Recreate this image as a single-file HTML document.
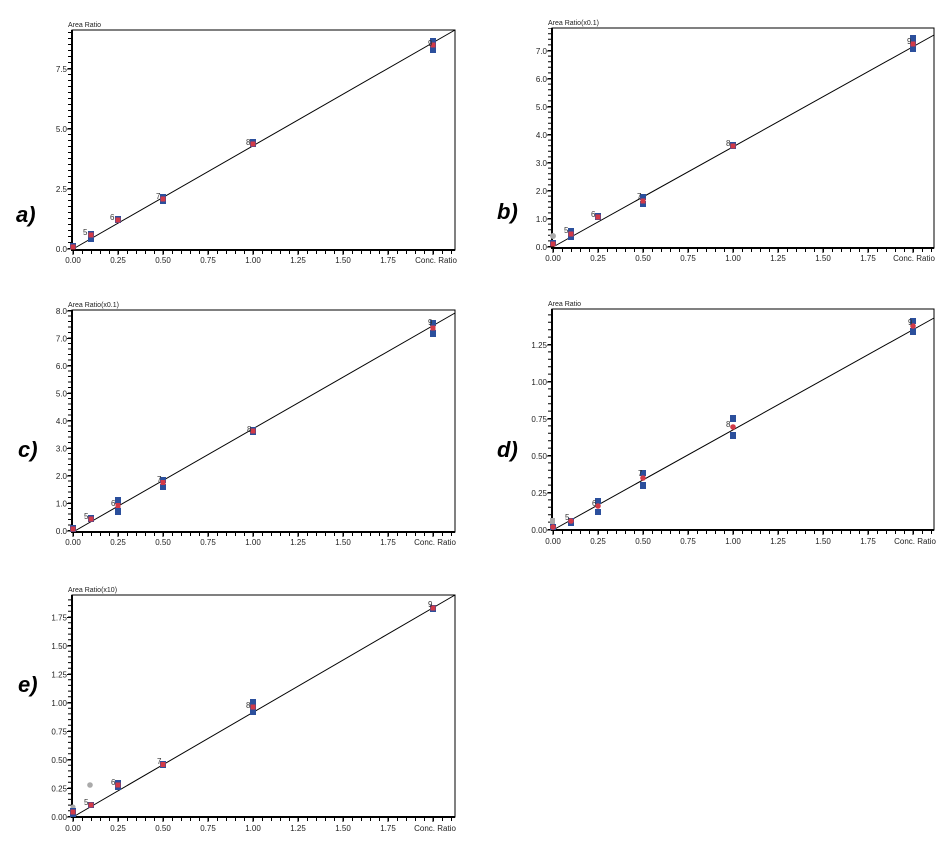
<!DOCTYPE html>
<html><head><meta charset="utf-8"><style>
html,body{margin:0;padding:0;background:#fff;}
svg{display:block;}
text{font-family:"Liberation Sans",sans-serif;fill:#222;}
.t{font-size:8px;}
.yl{font-size:8px;text-anchor:end;}
.xl{font-size:8px;text-anchor:middle;}
.ti{font-size:7px;}
.pl{font-size:22px;font-weight:bold;font-style:italic;fill:#000;}
.n{font-size:8px;fill:#333;}
.b{fill:#2b4f9c;}
.r{fill:#d23a48;}
.g{fill:#aaa;}
</style></head><body>
<svg width="940" height="841" viewBox="0 0 940 841" xmlns="http://www.w3.org/2000/svg">
<rect width="940" height="841" fill="#fff"/>

<!-- ===== Panel a ===== -->
<g>
<rect x="72" y="30" width="383" height="220" fill="none" stroke="#000" stroke-width="1"/>
<line x1="72" y1="30" x2="72" y2="251" stroke="#000" stroke-width="2"/>
<line x1="71" y1="250" x2="455" y2="250" stroke="#000" stroke-width="2"/>
<line x1="69.5" y1="249" x2="69.5" y2="30" stroke="#000" stroke-width="3" stroke-dasharray="1 5"/>
<line x1="73" y1="252.5" x2="455" y2="252.5" stroke="#000" stroke-width="3" stroke-dasharray="1 8"/>
<g stroke="#000" stroke-width="1">
<line x1="67" y1="249" x2="72" y2="249"/><line x1="67" y1="189" x2="72" y2="189"/><line x1="67" y1="129" x2="72" y2="129"/><line x1="67" y1="69" x2="72" y2="69"/>
<line x1="73" y1="250" x2="73" y2="255"/><line x1="118" y1="250" x2="118" y2="255"/><line x1="163" y1="250" x2="163" y2="255"/><line x1="208" y1="250" x2="208" y2="255"/><line x1="253" y1="250" x2="253" y2="255"/><line x1="298" y1="250" x2="298" y2="255"/><line x1="343" y1="250" x2="343" y2="255"/><line x1="388" y1="250" x2="388" y2="255"/><line x1="433" y1="250" x2="433" y2="255"/>
</g>
<text class="yl" x="67" y="252">0.0</text><text class="yl" x="67" y="192">2.5</text><text class="yl" x="67" y="132">5.0</text><text class="yl" x="67" y="72">7.5</text>
<text class="xl" x="73" y="263">0.00</text><text class="xl" x="118" y="263">0.25</text><text class="xl" x="163" y="263">0.50</text><text class="xl" x="208" y="263">0.75</text><text class="xl" x="253" y="263">1.00</text><text class="xl" x="298" y="263">1.25</text><text class="xl" x="343" y="263">1.50</text><text class="xl" x="388" y="263">1.75</text><text class="xl" x="436" y="263">Conc. Ratio</text>
<text class="ti" x="68" y="27">Area Ratio</text>
<line x1="73" y1="249" x2="455" y2="30" stroke="#000" stroke-width="1"/>
<rect class="b" x="70" y="243" width="6" height="6"/><rect class="r" x="70.5" y="244.5" width="5" height="5"/>
<rect class="b" x="88" y="231" width="6" height="6"/><rect class="b" x="88" y="236" width="6" height="6"/><rect class="r" x="88.5" y="232.5" width="5" height="5"/><text class="n" x="83" y="235">5</text>
<rect class="b" x="115" y="216" width="6" height="7"/><rect class="r" x="115.5" y="217.5" width="5" height="5"/><text class="n" x="110" y="220">6</text>
<rect class="b" x="160" y="194" width="6" height="6"/><rect class="b" x="160" y="199" width="6" height="5"/><rect class="r" x="160.5" y="196.5" width="5" height="5"/><text class="n" x="156" y="199">7</text>
<rect class="b" x="250" y="139" width="6" height="8"/><rect class="r" x="250.5" y="141.5" width="5" height="5"/><text class="n" x="246" y="145">8</text>
<rect class="b" x="430" y="38" width="6" height="6"/><rect class="b" x="430" y="47" width="6" height="6"/><rect class="b" x="430" y="42" width="6" height="6"/><rect class="r" x="430.5" y="42.5" width="5" height="5"/><text class="n" x="428" y="46">9</text>
<text class="pl" x="16" y="222">a)</text>
</g>

<!-- ===== Panel b ===== -->
<g>
<rect x="552" y="28" width="382" height="220" fill="none" stroke="#000" stroke-width="1"/>
<line x1="552" y1="28" x2="552" y2="249" stroke="#000" stroke-width="2"/>
<line x1="551" y1="248" x2="934" y2="248" stroke="#000" stroke-width="2"/>
<line x1="549.5" y1="247" x2="549.5" y2="28" stroke="#000" stroke-width="3" stroke-dasharray="1 4.6"/>
<line x1="553" y1="250.5" x2="934" y2="250.5" stroke="#000" stroke-width="3" stroke-dasharray="1 8"/>
<g stroke="#000" stroke-width="1">
<line x1="547" y1="247" x2="552" y2="247"/><line x1="547" y1="219" x2="552" y2="219"/><line x1="547" y1="191" x2="552" y2="191"/><line x1="547" y1="163" x2="552" y2="163"/><line x1="547" y1="135" x2="552" y2="135"/><line x1="547" y1="107" x2="552" y2="107"/><line x1="547" y1="79" x2="552" y2="79"/><line x1="547" y1="51" x2="552" y2="51"/>
<line x1="553" y1="248" x2="553" y2="253"/><line x1="598" y1="248" x2="598" y2="253"/><line x1="643" y1="248" x2="643" y2="253"/><line x1="688" y1="248" x2="688" y2="253"/><line x1="733" y1="248" x2="733" y2="253"/><line x1="778" y1="248" x2="778" y2="253"/><line x1="823" y1="248" x2="823" y2="253"/><line x1="868" y1="248" x2="868" y2="253"/><line x1="913" y1="248" x2="913" y2="253"/>
</g>
<text class="yl" x="547" y="250">0.0</text><text class="yl" x="547" y="222">1.0</text><text class="yl" x="547" y="194">2.0</text><text class="yl" x="547" y="166">3.0</text><text class="yl" x="547" y="138">4.0</text><text class="yl" x="547" y="110">5.0</text><text class="yl" x="547" y="82">6.0</text><text class="yl" x="547" y="54">7.0</text>
<text class="xl" x="553" y="261">0.00</text><text class="xl" x="598" y="261">0.25</text><text class="xl" x="643" y="261">0.50</text><text class="xl" x="688" y="261">0.75</text><text class="xl" x="733" y="261">1.00</text><text class="xl" x="778" y="261">1.25</text><text class="xl" x="823" y="261">1.50</text><text class="xl" x="868" y="261">1.75</text><text class="xl" x="914" y="261">Conc. Ratio</text>
<text class="ti" x="548" y="25">Area Ratio(x0.1)</text>
<line x1="553" y1="247" x2="934" y2="35" stroke="#000" stroke-width="1"/>
<circle class="g" cx="553" cy="236" r="3"/>
<rect class="b" x="550" y="240" width="6" height="6"/><rect class="r" x="550.5" y="241.5" width="5" height="5"/>
<rect class="b" x="568" y="228" width="6" height="6"/><rect class="b" x="568" y="234" width="6" height="6"/><rect class="r" x="568.5" y="231.5" width="5" height="5"/><text class="n" x="564" y="233">5</text>
<rect class="b" x="595" y="213" width="6" height="7"/><rect class="r" x="595.5" y="214.5" width="5" height="5"/><text class="n" x="591" y="217">6</text>
<rect class="b" x="640" y="194" width="6" height="6"/><rect class="b" x="640" y="201" width="6" height="6"/><rect class="r" x="640.5" y="198.5" width="5" height="5"/><text class="n" x="637" y="199">7</text>
<rect class="b" x="730" y="142" width="6" height="7"/><rect class="r" x="730.5" y="143.5" width="5" height="5"/><text class="n" x="726" y="146">8</text>
<rect class="b" x="910" y="35" width="6" height="6"/><rect class="b" x="910" y="45" width="6" height="7"/><rect class="b" x="910" y="40" width="6" height="6"/><rect class="r" x="910.5" y="41.5" width="5" height="5"/><text class="n" x="907" y="44">9</text>
<text class="pl" x="497" y="219">b)</text>
</g>

<!-- ===== Panel c ===== -->
<g>
<rect x="72" y="310" width="383" height="222" fill="none" stroke="#000" stroke-width="1"/>
<line x1="72" y1="310" x2="72" y2="533" stroke="#000" stroke-width="2"/>
<line x1="71" y1="532" x2="455" y2="532" stroke="#000" stroke-width="2"/>
<line x1="69.5" y1="531" x2="69.5" y2="310" stroke="#000" stroke-width="3" stroke-dasharray="1 4.5"/>
<line x1="73" y1="534.5" x2="455" y2="534.5" stroke="#000" stroke-width="3" stroke-dasharray="1 8"/>
<g stroke="#000" stroke-width="1">
<line x1="67" y1="531" x2="72" y2="531"/><line x1="67" y1="503.5" x2="72" y2="503.5"/><line x1="67" y1="476" x2="72" y2="476"/><line x1="67" y1="448.5" x2="72" y2="448.5"/><line x1="67" y1="421" x2="72" y2="421"/><line x1="67" y1="393.5" x2="72" y2="393.5"/><line x1="67" y1="366" x2="72" y2="366"/><line x1="67" y1="338.5" x2="72" y2="338.5"/><line x1="67" y1="311" x2="72" y2="311"/>
<line x1="73" y1="532" x2="73" y2="537"/><line x1="118" y1="532" x2="118" y2="537"/><line x1="163" y1="532" x2="163" y2="537"/><line x1="208" y1="532" x2="208" y2="537"/><line x1="253" y1="532" x2="253" y2="537"/><line x1="298" y1="532" x2="298" y2="537"/><line x1="343" y1="532" x2="343" y2="537"/><line x1="388" y1="532" x2="388" y2="537"/><line x1="433" y1="532" x2="433" y2="537"/>
</g>
<text class="yl" x="67" y="534">0.0</text><text class="yl" x="67" y="506.5">1.0</text><text class="yl" x="67" y="479">2.0</text><text class="yl" x="67" y="451.5">3.0</text><text class="yl" x="67" y="424">4.0</text><text class="yl" x="67" y="396.5">5.0</text><text class="yl" x="67" y="369">6.0</text><text class="yl" x="67" y="341.5">7.0</text><text class="yl" x="67" y="314">8.0</text>
<text class="xl" x="73" y="545">0.00</text><text class="xl" x="118" y="545">0.25</text><text class="xl" x="163" y="545">0.50</text><text class="xl" x="208" y="545">0.75</text><text class="xl" x="253" y="545">1.00</text><text class="xl" x="298" y="545">1.25</text><text class="xl" x="343" y="545">1.50</text><text class="xl" x="388" y="545">1.75</text><text class="xl" x="435" y="545">Conc. Ratio</text>
<text class="ti" x="68" y="307">Area Ratio(x0.1)</text>
<line x1="73" y1="532" x2="455" y2="313" stroke="#000" stroke-width="1"/>
<rect class="b" x="70" y="525" width="6" height="7"/><rect class="r" x="70.5" y="526.5" width="5" height="5"/>
<rect class="b" x="88" y="515" width="6" height="7"/><rect class="r" x="88.5" y="516.5" width="5" height="5"/><text class="n" x="84" y="519">5</text>
<rect class="b" x="115" y="497" width="6" height="7"/><rect class="b" x="115" y="508" width="6" height="7"/><rect class="r" x="115.5" y="503" width="5" height="5"/><text class="n" x="111" y="506">6</text>
<rect class="b" x="160" y="477" width="6" height="6"/><rect class="b" x="160" y="484" width="6" height="6"/><rect class="r" x="160.5" y="480" width="5" height="5"/><text class="n" x="157" y="482">7</text>
<rect class="b" x="250" y="427" width="6" height="8"/><rect class="r" x="250.5" y="428.5" width="5" height="5"/><text class="n" x="247" y="432">8</text>
<rect class="b" x="430" y="320" width="6" height="6"/><rect class="b" x="430" y="330" width="6" height="7"/><rect class="r" x="430.5" y="325.5" width="5" height="5"/><text class="n" x="428" y="325">9</text>
<text class="pl" x="18" y="457">c)</text>
</g>

<!-- ===== Panel d ===== -->
<g>
<rect x="552" y="309" width="382" height="221" fill="none" stroke="#000" stroke-width="1"/>
<line x1="552" y1="309" x2="552" y2="531" stroke="#000" stroke-width="2"/>
<line x1="551" y1="530" x2="934" y2="530" stroke="#000" stroke-width="2"/>
<line x1="549.5" y1="530" x2="549.5" y2="309" stroke="#000" stroke-width="3" stroke-dasharray="1 6.4"/>
<line x1="553" y1="532.5" x2="934" y2="532.5" stroke="#000" stroke-width="3" stroke-dasharray="1 8"/>
<g stroke="#000" stroke-width="1">
<line x1="547" y1="530" x2="552" y2="530"/><line x1="547" y1="493" x2="552" y2="493"/><line x1="547" y1="456" x2="552" y2="456"/><line x1="547" y1="419" x2="552" y2="419"/><line x1="547" y1="382" x2="552" y2="382"/><line x1="547" y1="345" x2="552" y2="345"/>
<line x1="553" y1="530" x2="553" y2="535"/><line x1="598" y1="530" x2="598" y2="535"/><line x1="643" y1="530" x2="643" y2="535"/><line x1="688" y1="530" x2="688" y2="535"/><line x1="733" y1="530" x2="733" y2="535"/><line x1="778" y1="530" x2="778" y2="535"/><line x1="823" y1="530" x2="823" y2="535"/><line x1="868" y1="530" x2="868" y2="535"/><line x1="913" y1="530" x2="913" y2="535"/>
</g>
<text class="yl" x="547" y="533">0.00</text><text class="yl" x="547" y="496">0.25</text><text class="yl" x="547" y="459">0.50</text><text class="yl" x="547" y="422">0.75</text><text class="yl" x="547" y="385">1.00</text><text class="yl" x="547" y="348">1.25</text>
<text class="xl" x="553" y="544">0.00</text><text class="xl" x="598" y="544">0.25</text><text class="xl" x="643" y="544">0.50</text><text class="xl" x="688" y="544">0.75</text><text class="xl" x="733" y="544">1.00</text><text class="xl" x="778" y="544">1.25</text><text class="xl" x="823" y="544">1.50</text><text class="xl" x="868" y="544">1.75</text><text class="xl" x="915" y="544">Conc. Ratio</text>
<text class="ti" x="548" y="306">Area Ratio</text>
<line x1="553" y1="530" x2="934" y2="318" stroke="#000" stroke-width="1"/>
<rect class="g" x="550" y="518" width="5" height="6"/>
<rect class="b" x="550" y="524" width="6" height="6"/><circle class="r" cx="553" cy="527" r="2.8"/>
<rect class="b" x="568" y="518" width="6" height="8"/><circle class="r" cx="571" cy="521" r="2.8"/><text class="n" x="565" y="520">5</text>
<rect class="b" x="595" y="498" width="6" height="6"/><rect class="b" x="595" y="509" width="6" height="6"/><circle class="r" cx="598" cy="506" r="2.8"/><text class="n" x="592" y="506">6</text>
<rect class="b" x="640" y="470" width="6" height="6"/><rect class="b" x="640" y="482" width="6" height="7"/><circle class="r" cx="643" cy="478" r="2.8"/><text class="n" x="638" y="476">7</text>
<rect class="b" x="730" y="415" width="6" height="7"/><rect class="b" x="730" y="432" width="6" height="7"/><circle class="r" cx="733" cy="427" r="2.8"/><text class="n" x="726" y="427">8</text>
<rect class="b" x="910" y="318" width="6" height="6"/><rect class="b" x="910" y="328" width="6" height="7"/><circle class="r" cx="913" cy="326" r="2.8"/><text class="n" x="908" y="325">9</text>
<text class="pl" x="497" y="457">d)</text>
</g>

<!-- ===== Panel e ===== -->
<g>
<rect x="72" y="595" width="383" height="222" fill="none" stroke="#000" stroke-width="1"/>
<line x1="72" y1="595" x2="72" y2="818" stroke="#000" stroke-width="2"/>
<line x1="71" y1="817" x2="455" y2="817" stroke="#000" stroke-width="2"/>
<line x1="69.5" y1="817" x2="69.5" y2="595" stroke="#000" stroke-width="3" stroke-dasharray="1 4.7"/>
<line x1="73" y1="819.5" x2="455" y2="819.5" stroke="#000" stroke-width="3" stroke-dasharray="1 8"/>
<g stroke="#000" stroke-width="1">
<line x1="67" y1="817" x2="72" y2="817"/><line x1="67" y1="788.5" x2="72" y2="788.5"/><line x1="67" y1="760" x2="72" y2="760"/><line x1="67" y1="731.5" x2="72" y2="731.5"/><line x1="67" y1="703" x2="72" y2="703"/><line x1="67" y1="674.5" x2="72" y2="674.5"/><line x1="67" y1="646" x2="72" y2="646"/><line x1="67" y1="617.5" x2="72" y2="617.5"/>
<line x1="73" y1="817" x2="73" y2="822"/><line x1="118" y1="817" x2="118" y2="822"/><line x1="163" y1="817" x2="163" y2="822"/><line x1="208" y1="817" x2="208" y2="822"/><line x1="253" y1="817" x2="253" y2="822"/><line x1="298" y1="817" x2="298" y2="822"/><line x1="343" y1="817" x2="343" y2="822"/><line x1="388" y1="817" x2="388" y2="822"/><line x1="433" y1="817" x2="433" y2="822"/>
</g>
<text class="yl" x="67" y="820">0.00</text><text class="yl" x="67" y="791.5">0.25</text><text class="yl" x="67" y="763">0.50</text><text class="yl" x="67" y="734.5">0.75</text><text class="yl" x="67" y="706">1.00</text><text class="yl" x="67" y="677.5">1.25</text><text class="yl" x="67" y="649">1.50</text><text class="yl" x="67" y="620.5">1.75</text>
<text class="xl" x="73" y="831">0.00</text><text class="xl" x="118" y="831">0.25</text><text class="xl" x="163" y="831">0.50</text><text class="xl" x="208" y="831">0.75</text><text class="xl" x="253" y="831">1.00</text><text class="xl" x="298" y="831">1.25</text><text class="xl" x="343" y="831">1.50</text><text class="xl" x="388" y="831">1.75</text><text class="xl" x="435" y="831">Conc. Ratio</text>
<text class="ti" x="68" y="592">Area Ratio(x10)</text>
<line x1="73" y1="817" x2="455" y2="595" stroke="#000" stroke-width="1"/>
<circle class="g" cx="73" cy="807" r="2.5"/><circle class="g" cx="90" cy="785" r="2.8"/>
<rect class="b" x="70" y="808" width="6" height="9"/><rect class="r" x="70.5" y="809.5" width="5" height="5"/>
<rect class="b" x="88" y="802" width="6" height="6"/><rect class="r" x="88.5" y="802.5" width="5" height="5"/><text class="n" x="84" y="805">5</text>
<rect class="b" x="115" y="780" width="6" height="10"/><rect class="r" x="115.5" y="782.5" width="5" height="5"/><text class="n" x="111" y="785">6</text>
<rect class="b" x="160" y="761" width="6" height="7"/><rect class="r" x="160.5" y="762" width="5" height="5"/><text class="n" x="157" y="764">7</text>
<rect class="b" x="250" y="699" width="6" height="16"/><rect class="r" x="250.5" y="704.5" width="5" height="5"/><text class="n" x="246" y="708">8</text>
<rect class="b" x="430" y="605" width="6" height="7"/><rect class="r" x="430.5" y="605.5" width="5" height="5"/><text class="n" x="428" y="607">9</text>
<text class="pl" x="18" y="692">e)</text>
</g>
</svg>
</body></html>
